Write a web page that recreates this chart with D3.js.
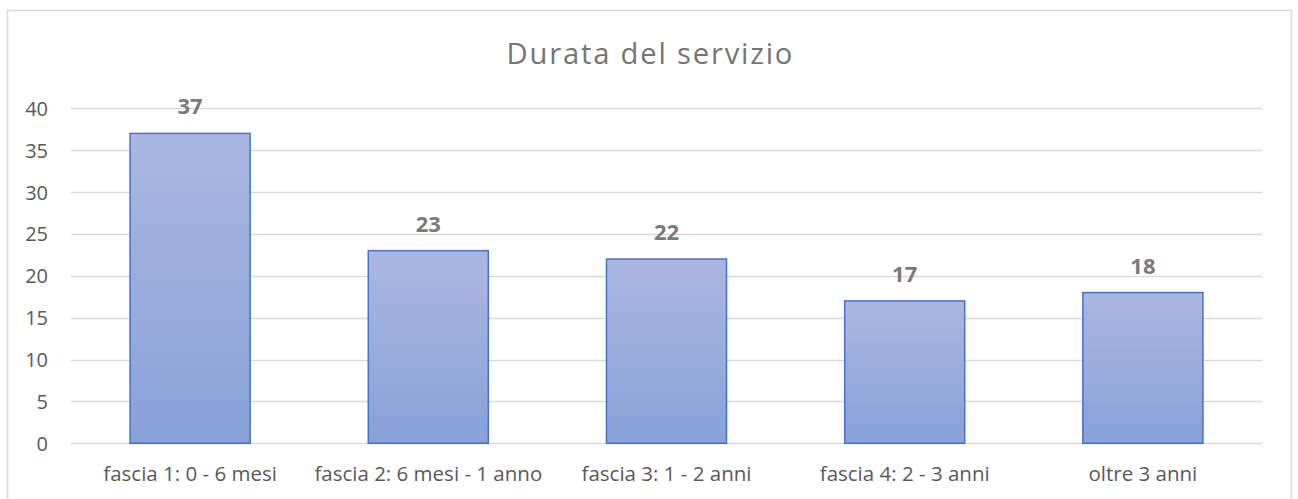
<!DOCTYPE html>
<html><head><meta charset="utf-8">
<script src="https://cdn.jsdelivr.net/npm/d3@7"></script>
<style>body{margin:0;background:#fff;}svg{display:block;}</style>
</head><body>
<script>
const categories = ["fascia 1: 0 - 6 mesi","fascia 2: 6 mesi - 1 anno","fascia 3: 1 - 2 anni","fascia 4: 2 - 3 anni","oltre 3 anni"];
const values = [37,23,22,17,18];
const yTicks = [0,5,10,15,20,25,30,35,40];
const title = "Durata del servizio";

const W=1298,H=499;
const svg=d3.select("body").append("svg").attr("width",W).attr("height",H);
const font="'Open Sans', 'Noto Sans', sans-serif";

svg.append("rect").attr("x",7.5).attr("y",10.5).attr("width",1284).attr("height",500)
  .attr("fill","#fff").attr("stroke","#d9d9d9").attr("stroke-width",1.5);

const defs=svg.append("defs");
const g=defs.append("linearGradient").attr("id","bg").attr("x1",0).attr("y1",0).attr("x2",0).attr("y2",1);
g.append("stop").attr("offset","0%").attr("stop-color","#abb7e1");
g.append("stop").attr("offset","100%").attr("stop-color","#88a1d9");

const x=d3.scaleBand().domain(categories).range([71,1262]).paddingInner(0.496).paddingOuter(0.248);
const y=d3.scaleLinear().domain([0,40]).range([443.3,108.3]);

// gridlines
svg.append("g").selectAll("line").data(yTicks).join("line")
  .attr("x1",71).attr("x2",1262).attr("y1",d=>Math.round(y(d))+0.5).attr("y2",d=>Math.round(y(d))+0.5)
  .attr("stroke","#d9d9d9").attr("stroke-width",1.5);

// y axis labels
const yAxis=d3.axisLeft(y).tickValues(yTicks).tickSize(0).tickPadding(0);
const ya=svg.append("g").attr("transform","translate(48,0)").call(yAxis);
ya.select(".domain").remove();
ya.selectAll("text").attr("font-family",font).attr("font-size",20).attr("fill","#595959").attr("dy","0.35em");

// bars
svg.append("g").selectAll("rect").data(values).join("rect")
  .attr("x",(d,i)=>x(categories[i])).attr("width",x.bandwidth())
  .attr("y",d=>y(d)).attr("height",d=>y(0)-y(d))
  .attr("fill","url(#bg)").attr("stroke","#4472c4").attr("stroke-width",1.5);

// data labels
svg.append("g").selectAll("text").data(values).join("text")
  .attr("x",(d,i)=>x(categories[i])+x.bandwidth()/2).attr("y",d=>y(d)-19)
  .attr("text-anchor","middle").attr("font-family",font).attr("font-weight","bold")
  .attr("font-size",22).attr("fill","#7a7a7a").text(d=>d);

// x axis
const xAxis=d3.axisBottom(x).tickSize(0).tickPadding(0);
const xa=svg.append("g").attr("transform","translate(0,443)").call(xAxis);
xa.select(".domain").remove();
xa.selectAll("text").attr("font-family",font).attr("font-size",20.5).attr("fill","#595959").attr("dy",0).attr("y",38);

// title
svg.append("text").attr("x",650.4).attr("y",63.5).attr("text-anchor","middle")
  .attr("font-family",font).attr("font-size",29.2).attr("letter-spacing",1.8).attr("fill","#757575").text(title);
</script>
</body></html>
